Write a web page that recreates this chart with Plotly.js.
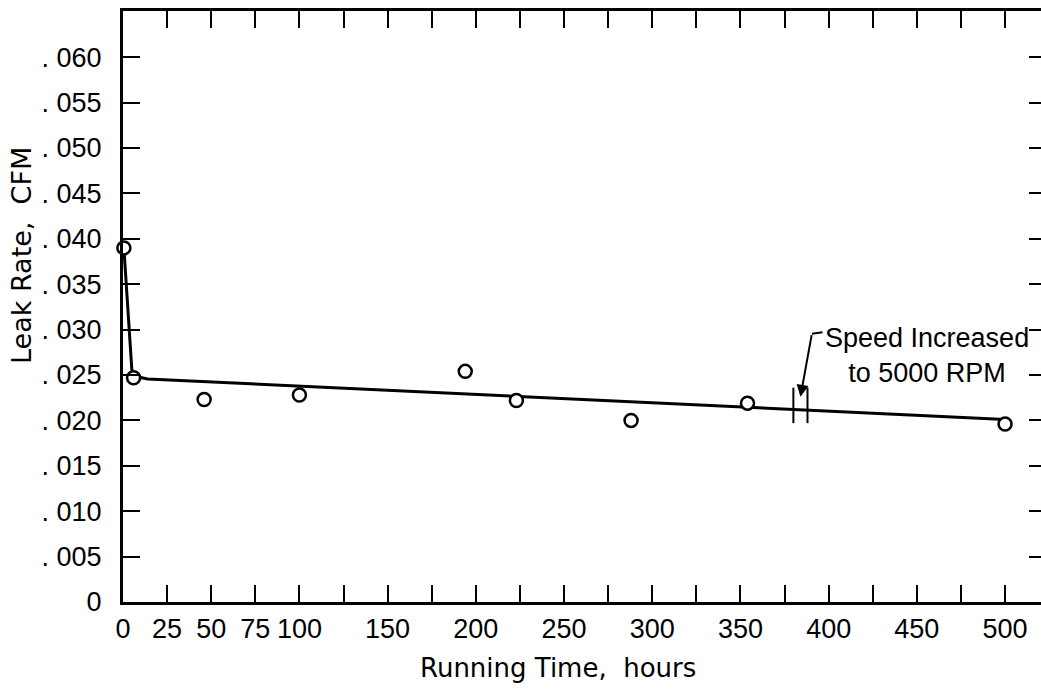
<!DOCTYPE html>
<html>
<head>
<meta charset="utf-8">
<script src="https://cdn.plot.ly/plotly-3.0.1.min.js"></script>
<style>
  html, body { margin: 0; padding: 0; background: #fff; overflow: hidden; }
  #chart { width: 1048px; height: 689px; }
</style>
</head>
<body>
<div id="chart"></div>
<script>
// Measured data points (open circles)
const runningHours = [0.5, 6, 46, 100, 194, 223, 288, 354, 500];
const leakRateCFM  = [0.0390, 0.0247, 0.0223, 0.0228, 0.0254, 0.0222, 0.0200, 0.0219, 0.0196];

// Faired curve drawn through the data
const curveHours = [0.5, 5, 8, 14, 500];
const curveLeak  = [0.0390, 0.0256, 0.0248, 0.02456, 0.0201];

// Speed change marker (hours) and its vertical extent
const speedChangeHours = [380, 388];
const speedChangeLeak  = [0.0197, 0.0236];

// Tick definitions
const xTickVals = [0,25,50,75,100,125,150,175,200,225,250,275,300,325,350,375,400,425,450,475,500];
const xTickText = ['0','25','50','75','100','','150','','200','','250','','300','','350','','400','','450','','500'];
const yTickVals = [0,0.005,0.010,0.015,0.020,0.025,0.030,0.035,0.040,0.045,0.050,0.055,0.060];
const yTickText = ['0','.\u00a0005','.\u00a0010','.\u00a0015','.\u00a0020','.\u00a0025','.\u00a0030','.\u00a0035','.\u00a0040','.\u00a0045','.\u00a0050','.\u00a0055','.\u00a0060'];

const tickFont = {family: "'Liberation Sans', Arial, sans-serif", size: 27, color: '#000'};
const noteFont = {family: "'Liberation Sans', Arial, sans-serif", size: 27, color: '#000'};
const titleFont = {family: "'DejaVu Sans', sans-serif", size: 26, color: '#000'};

const traces = [
  {
    x: curveHours, y: curveLeak, mode: 'lines', type: 'scatter', cliponaxis: false,
    line: {color: '#000', width: 3}, hoverinfo: 'skip'
  },
  {
    x: runningHours, y: leakRateCFM, mode: 'markers', type: 'scatter', cliponaxis: false,
    marker: {symbol: 'circle', size: 13, color: '#fff', line: {color: '#000', width: 2.5}}
  }
];

const shapes = speedChangeHours.map(h => ({
  type: 'line', xref: 'x', yref: 'y',
  x0: h, x1: h, y0: speedChangeLeak[0], y1: speedChangeLeak[1],
  line: {color: '#000', width: 2}
}));
// leader dash before the note text
shapes.push({type: 'line', xref: 'x', yref: 'y', x0: 390.5, x1: 396.5, y0: 0.02955, y1: 0.0297,
  line: {color: '#000', width: 2}});

const layout = {
  width: 1048, height: 689,
  margin: {l: 123, r: 2, t: 11, b: 87},
  paper_bgcolor: '#fff', plot_bgcolor: '#fff',
  showlegend: false,
  xaxis: {
    range: [0, 523.2], tickmode: 'array', tickvals: xTickVals, ticktext: xTickText, tickangle: 0,
    ticks: 'inside', ticklen: 17, tickwidth: 2, tickcolor: '#000',
    showline: true, linecolor: '#000', linewidth: 3, mirror: 'ticks',
    showgrid: false, zeroline: false, tickfont: tickFont, ticklabelstandoff: 1
  },
  yaxis: {
    range: [0, 0.06509], tickmode: 'array', tickvals: yTickVals, ticktext: yTickText,
    ticks: 'inside', ticklen: 17, tickwidth: 2, tickcolor: '#000',
    showline: true, linecolor: '#000', linewidth: 3, mirror: 'ticks',
    showgrid: false, zeroline: false, tickfont: tickFont, ticklabelstandoff: 13
  },
  shapes: shapes,
  annotations: [
    {
      xref: 'paper', yref: 'paper', x: 0.4713, y: -0.1117, showarrow: false,
      text: 'Running Time,\u00a0 hours', font: titleFont, xanchor: 'center', yanchor: 'middle'
    },
    {
      xref: 'paper', yref: 'paper', x: -0.1094, y: 0.5855, showarrow: false, textangle: -90,
      text: 'Leak Rate,\u00a0 CFM', font: {family: titleFont.family, size: 27, color: '#000'},
      xanchor: 'center', yanchor: 'middle'
    },
    {
      xref: 'x', yref: 'y', x: 456, y: 0.0272, showarrow: false, align: 'center',
      text: 'Speed Increased<br>to 5000 RPM', font: noteFont, xanchor: 'center', yanchor: 'middle'
    },
    {
      xref: 'x', yref: 'y', axref: 'x', ayref: 'y',
      x: 384, y: 0.0226, ax: 390.5, ay: 0.02955,
      showarrow: true, arrowhead: 2, arrowsize: 1.2, arrowwidth: 2, arrowcolor: '#000', text: ''
    }
  ]
};

Plotly.newPlot('chart', traces, layout, {displayModeBar: false, staticPlot: true});
</script>
</body>
</html>
